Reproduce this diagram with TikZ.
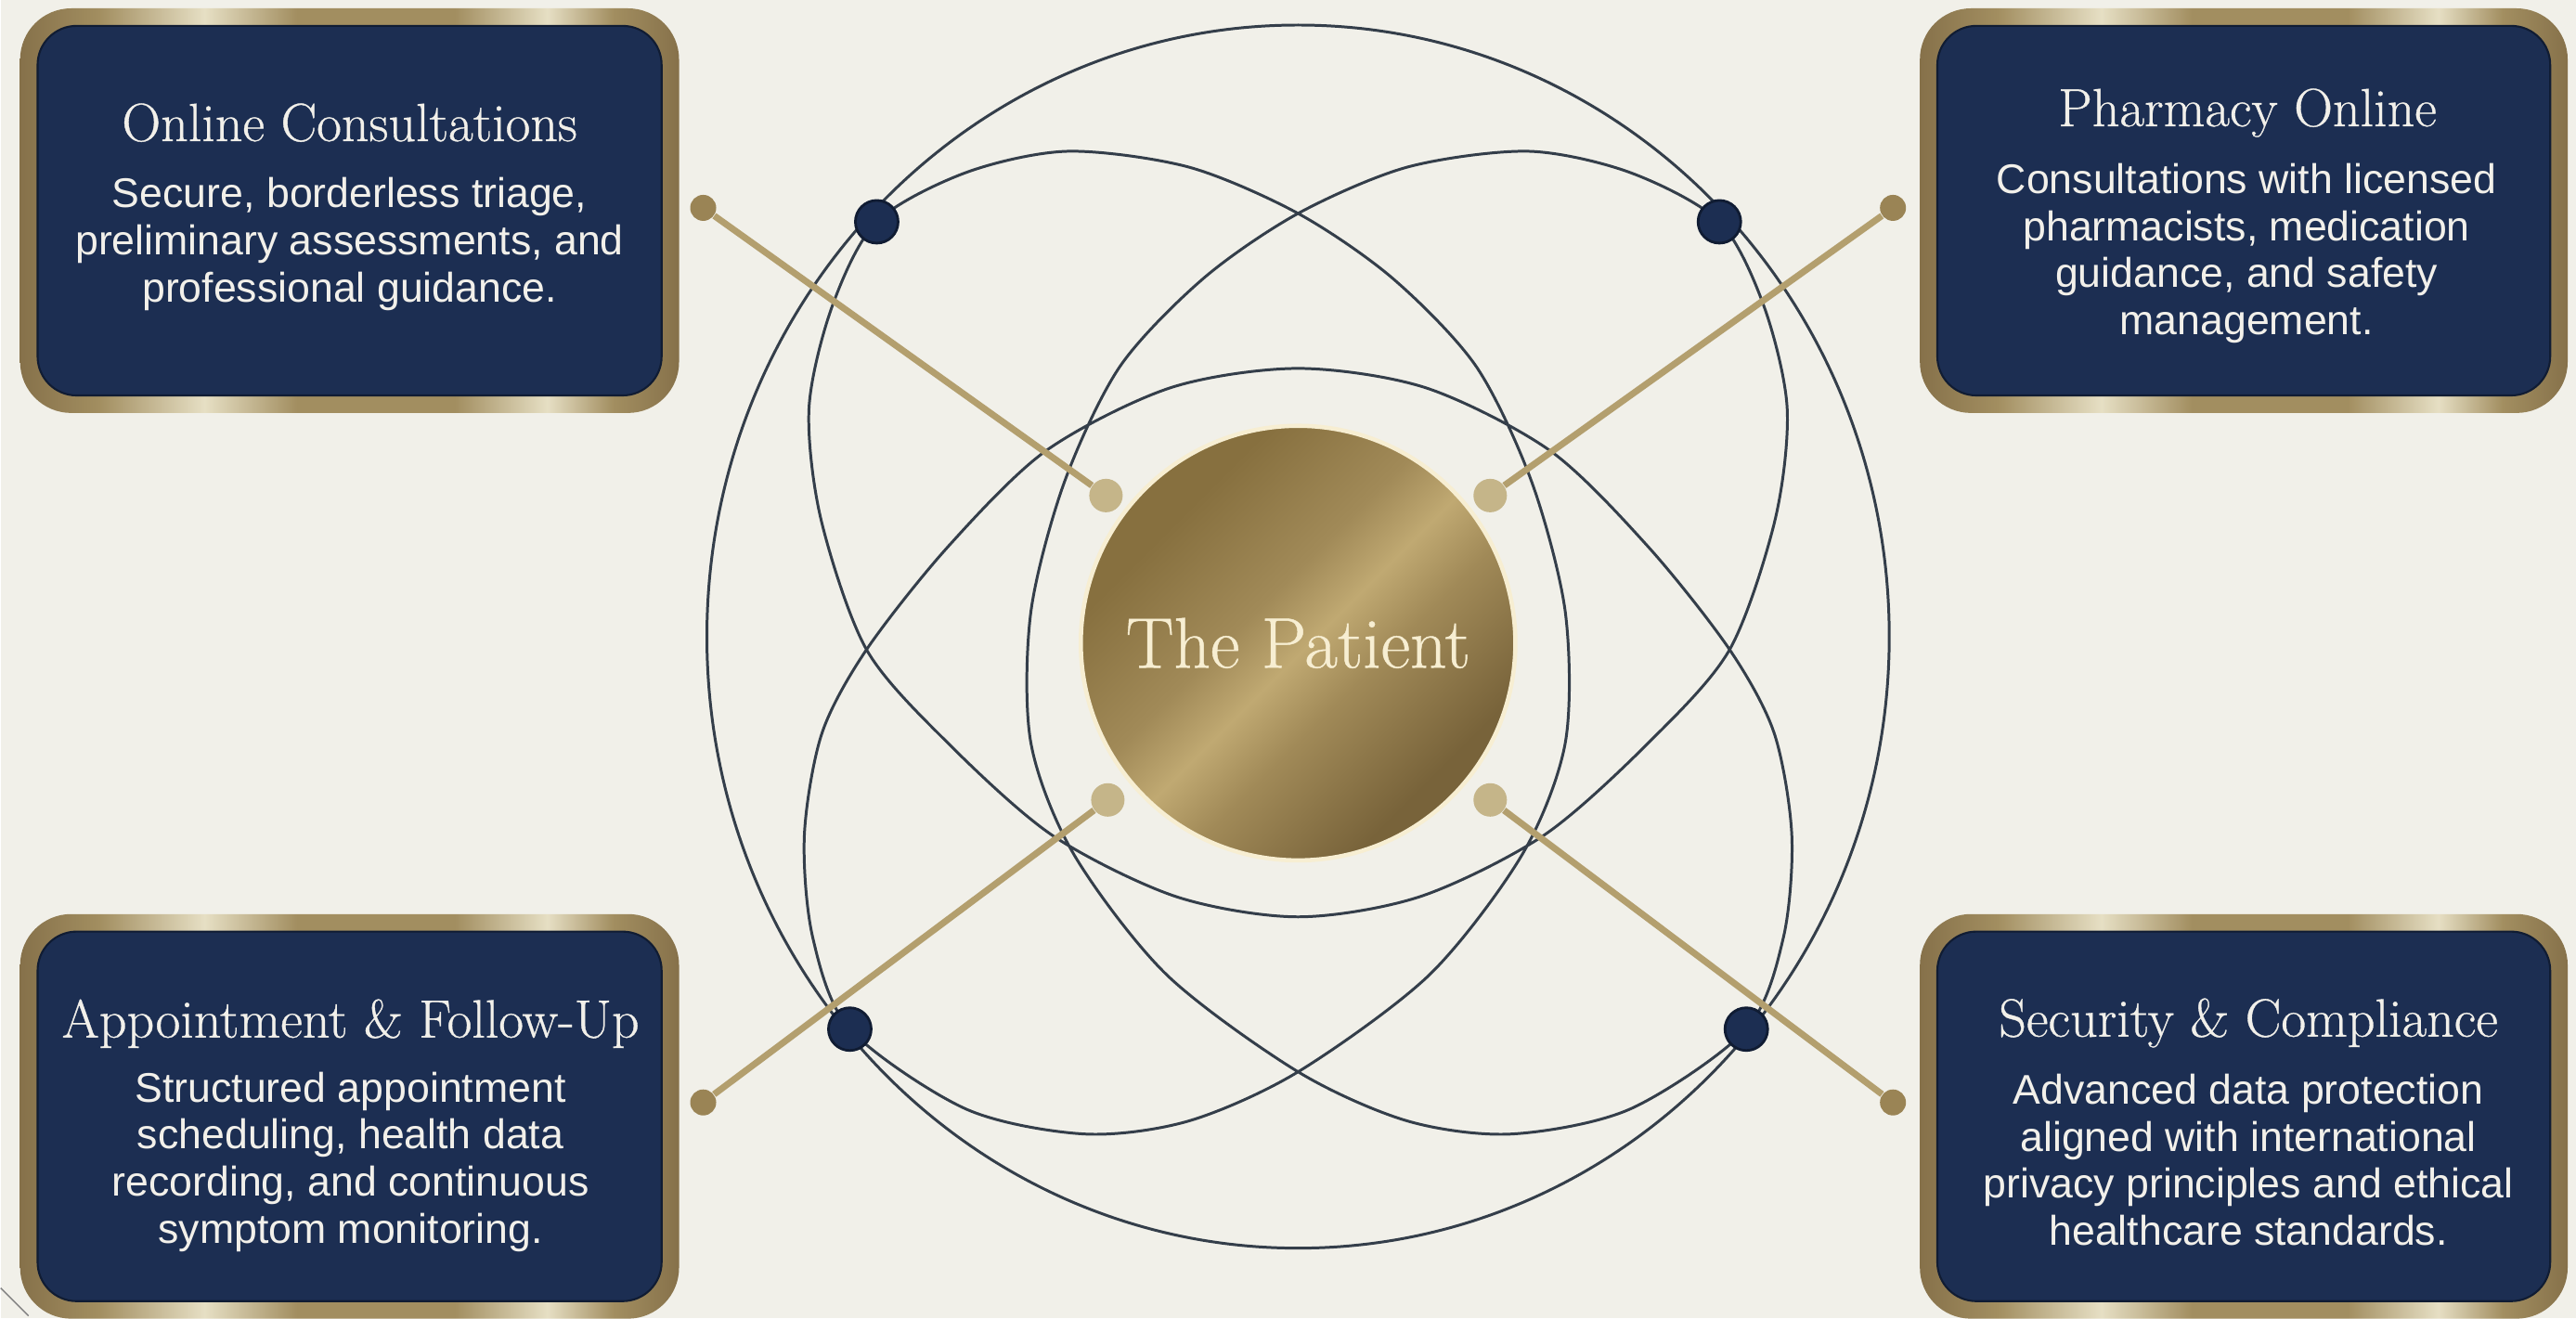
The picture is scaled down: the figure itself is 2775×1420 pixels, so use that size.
\documentclass[tikz,border=0pt]{standalone}
\usepackage{fontspec}
\newfontfamily\bodyfont{Liberation Sans}
\newfontfamily\titlefont{Latin Modern Roman}[FakeBold=0.6]
\definecolor{bg}{HTML}{F1F0E9}
\definecolor{navy}{HTML}{1C2E52}
\definecolor{navyedge}{HTML}{101C33}
\definecolor{orbit}{HTML}{343E4A}
\definecolor{spoke}{HTML}{B39F6E}
\definecolor{spokedark}{HTML}{9A8455}
\definecolor{spokelight}{HTML}{C5B589}
\definecolor{gA}{HTML}{86714A}
\definecolor{gB}{HTML}{A28E60}
\definecolor{gC}{HTML}{E6DFC4}
\definecolor{p1}{HTML}{87703F}
\definecolor{p2}{HTML}{A18A58}
\definecolor{p3}{HTML}{C0A972}
\definecolor{p4}{HTML}{78633A}
\definecolor{cream}{HTML}{F7EED2}
\definecolor{txt}{HTML}{F2F0EA}
\pgfdeclarehorizontalshading{goldframe}{100bp}{color(0bp)=(gA); color(25bp)=(gA); color(31bp)=(gB); color(39bp)=(gC); color(46bp)=(gB); color(58bp)=(gB); color(65bp)=(gC); color(70bp)=(gB); color(75bp)=(gA); color(100bp)=(gA)}
\pgfdeclarehorizontalshading{patientgold}{100bp}{color(0bp)=(p1); color(30bp)=(p1); color(44bp)=(p2); color(51bp)=(p3); color(58bp)=(p2); color(72bp)=(p4); color(100bp)=(p4)}
\tikzset{
  orbitline/.style={draw=orbit, line width=0.85pt},
  spokeline/.style={draw=spoke, line width=2pt},
  spokeend/.style={circle, fill=spokedark, minimum size=0.28cm, inner sep=0pt},
  spokein/.style={circle, fill=spokelight, minimum size=0.36cm, inner sep=0pt},
  navydot/.style={circle, fill=navy, draw=navyedge, line width=0.8pt, minimum size=0.46cm, inner sep=0pt},
  goldrim/.style={shading=goldframe, rounded corners=0.55cm},
  panel/.style={fill=navy, draw=navyedge, line width=0.6pt, rounded corners=0.42cm, inner sep=0pt},
  ttl/.style={text=txt, font=\titlefont\fontsize{16.5}{19}\selectfont, inner sep=0pt, anchor=base},
  bodytxt/.style={text=txt, font=\bodyfont\fontsize{12.7}{14.4}\selectfont, align=center, inner sep=0pt},
  patient/.style={circle, minimum size=4.68cm, inner sep=0pt, shading=patientgold, shading angle=-45, draw=cream, line width=1.3pt, text=cream, font=\titlefont\fontsize{22}{26}\selectfont}
}
\begin{document}
\begin{tikzpicture}[x=0.01cm, y=-0.01cm]
\fill[bg] (0,0) rectangle (2775,1420);
\draw[gray, line width=0.4pt] (0,1388) -- (30,1418);
% orbits
\draw[orbitline] (1398,686) ellipse [x radius=637, y radius=659];
\draw[orbitline] plot[smooth cycle, tension=0.5] coordinates {
 (944,239) (1040,186) (1150,163) (1280,180) (1398,230) (1500,300) (1590,395) (1650,520) (1686,660) (1686,800) (1640,920) (1540,1050) (1398,1155) (1280,1208) (1168,1222) (1040,1195) (915,1109)
 (875,1010) (866,900) (885,790) (933,700) (1020,590) (1126,486) (1260,418) (1398,397) (1536,418) (1670,486) (1776,590) (1863,700) (1911,790) (1930,900) (1921,1010) (1881,1109)
 (1756,1195) (1628,1222) (1516,1208) (1398,1155) (1256,1050) (1156,920) (1110,800) (1110,660) (1146,520) (1206,395) (1296,300) (1398,230) (1516,180) (1646,163) (1756,186) (1852,239)
 (1900,330) (1925,440) (1912,560) (1863,700) (1776,800) (1663,900) (1530,966) (1398,988) (1266,966) (1133,900) (1020,800) (933,700) (884,560) (871,440) (896,330)};
% spokes
\node[spokeend] (s1o) at (757,224) {};
\node[spokein] (s1i) at (1191,534) {};
\node[spokeend] (s2o) at (2039,224) {};
\node[spokein] (s2i) at (1605,534) {};
\node[spokeend] (s3o) at (757,1188) {};
\node[spokein] (s3i) at (1193,862) {};
\node[spokeend] (s4o) at (2039,1188) {};
\node[spokein] (s4i) at (1605,862) {};
\draw[spokeline] (s1o) -- (s1i);
\draw[spokeline] (s2o) -- (s2i);
\draw[spokeline] (s3o) -- (s3i);
\draw[spokeline] (s4o) -- (s4i);
% navy dots
\node[navydot] (d1) at (944,239) {};
\node[navydot] (d2) at (1852,239) {};
\node[navydot] (d3) at (915,1109) {};
\node[navydot] (d4) at (1881,1109) {};
% centre
\node[patient] (pat) at (1398,693) {The Patient};
% boxes
\shade[goldrim] (21,9) rectangle (731,445);
\node[panel, minimum width=6.72cm, minimum height=3.98cm] (p1box) at (376,227) {};
\node[ttl] (t1) at (376,152) {Online Consultations};
\node[bodytxt] (b1) at (376,263) {Secure, borderless triage,\\preliminary assessments, and\\professional guidance.};
\shade[goldrim] (2068,9) rectangle (2766,445);
\node[panel, minimum width=6.60cm, minimum height=3.98cm] (p2box) at (2417,227) {};
\node[ttl] (t2) at (2421,136) {Pharmacy Online};
\node[bodytxt] (b2) at (2420,273) {Consultations with licensed\\pharmacists, medication\\guidance, and safety\\management.};
\shade[goldrim] (21,985) rectangle (731,1421);
\node[panel, minimum width=6.72cm, minimum height=3.98cm] (p3box) at (376,1203) {};
\node[ttl] (t3) at (377,1118) {Appointment \& Follow-Up};
\node[bodytxt] (b3) at (377,1252) {Structured appointment\\scheduling, health data\\recording, and continuous\\symptom monitoring.};
\shade[goldrim] (2068,985) rectangle (2766,1421);
\node[panel, minimum width=6.60cm, minimum height=3.98cm] (p4box) at (2417,1203) {};
\node[ttl] (t4) at (2422,1117) {Security \& Compliance};
\node[bodytxt] (b4) at (2422,1250) {Advanced data protection\\aligned with international\\privacy principles and ethical\\healthcare standards.};
\end{tikzpicture}
\end{document}
